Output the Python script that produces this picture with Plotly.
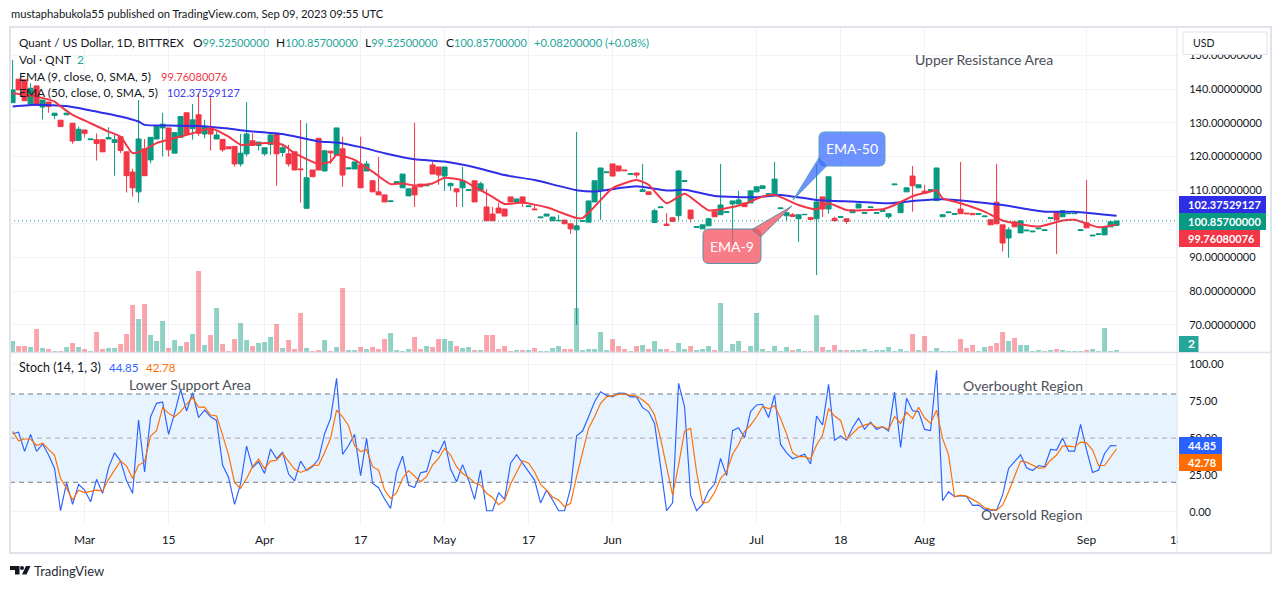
import plotly.graph_objects as go

# daily candles (oldest first)
opens = [136, 143, 142.8, 135.6, 141, 134.7, 136.2, 132.2, 130.8, 132.4,
         129.9, 124.8, 127.9, 125, 125, 125, 125.2, 124.2, 125.9, 121.4,
         115.4, 109.5, 122.3, 119, 125.2, 128.5, 128.5, 121, 125.7, 133,
         128.3, 132.4, 126.7, 128.4, 125.2, 125.1, 122.9, 123, 117.8, 120.8,
         124.7, 123.3, 120.8, 123.6, 126.9, 121.2, 120.8, 121.4, 116.3, 104.6,
         116, 125.4, 115.7, 121.6, 120.4, 122.3, 116.3, 116.3, 117.5, 115.7,
         112.8, 109.5, 108.6, 106.6, 112.2, 110.7, 108.3, 111, 111.8, 111.3,
         117.5, 116.9, 114.2, 111.3, 110.4, 110.7, 109.9, 112.8, 109.8, 105,
         102.9, 104.7, 104.4, 108, 106.5, 108, 105.1, 104.4, 101.8, 102.3,
         100.9, 100.9, 101.1, 100, 98.2, 100.7, 100.5, 106.5, 110, 115.2,
         117.8, 117.2, 116, 114.7, 115.1, 109.6, 109.5, 100.4, 104.8, 99.9,
         101.8, 102.4, 112.6, 104.1, 98.9, 98.5, 99.4, 103.6, 102.7, 103.4,
         105.9, 105.9, 106.2, 106.2, 109.5, 110.5, 108.7, 108.3, 104.5, 102.4,
         102.7, 101.5, 102.7, 101.9, 101.5, 108, 104.4, 101.6, 101.9, 101.5,
         103.3, 104.7, 103.1, 104.8, 103.1, 103.7, 102.1, 111.6, 103.3, 109.5,
         114.2, 110.7, 109.7, 109.9, 106.9, 102.1, 103.3, 102.8, 104.4, 103.2,
         103.1, 102.8, 102.1, 101.2, 106.4, 99.7, 95.8, 100.6, 97.3, 97.9,
         97.6, 98.5, 98, 101.6, 103.4, 102.1, 103, 103, 98, 100.3,
         96.4, 96.8, 96.7, 99.1, 99.525]
highs = [148.7, 143, 142.8, 141.8, 141, 136.8, 136.2, 132.9, 130.8, 132.9,
         129.9, 128.9, 127.9, 125.2, 126.9, 125, 128.7, 126.4, 125.9, 121.4,
         116.4, 136.8, 125.2, 125.7, 128.9, 133, 128.5, 127.1, 131.9, 133,
         135.6, 138.8, 130.9, 138, 127.4, 125.1, 122.9, 123, 126.7, 136.2,
         126.9, 124.3, 122.6, 127.2, 126.9, 123.8, 123.5, 121.4, 130.9, 129.9,
         116, 125.4, 122, 121.6, 128.5, 125.9, 116.6, 118.4, 125.9, 118.7,
         112.8, 119.9, 108.6, 106.8, 112.5, 114.8, 110.4, 130, 111.8, 111.6,
         118.4, 116.9, 116.9, 112.3, 110.4, 116.9, 110.1, 112.8, 112.5, 110.4,
         105, 106.2, 104.4, 108, 107.4, 108, 105.3, 105.6, 102, 102.9,
         102, 102.6, 101.1, 100, 127.3, 100.9, 106.8, 112.8, 116.6, 115.4,
         117.8, 117.2, 116, 114.9, 115.1, 117.8, 109.5, 104.5, 105, 103.2,
         101.8, 116, 112.8, 104.1, 99.1, 99.7, 101.8, 103.6, 117.8, 103.6,
         106.8, 109.8, 106.2, 109.8, 111, 111.3, 108.9, 118.4, 104.7, 103.3,
         103.2, 102.7, 102.8, 101.9, 117.8, 108, 114, 102.1, 102.1, 101.5,
         104.1, 105.9, 103.3, 105, 103.3, 103.9, 103, 111.8, 106.2, 110.7,
         117.2, 111.6, 111.6, 110.1, 116.6, 102.7, 103.5, 103, 118.4, 103.2,
         103.1, 103, 102.3, 101.2, 117.8, 99.7, 99, 100.6, 100.9, 98.1,
         97.8, 98.7, 98.2, 101.8, 103.4, 103.9, 103.1, 103.1, 98.2, 113,
         96.6, 97, 99.2, 100.6, 100.857]
lows = [136, 139.8, 136.6, 135.6, 135.2, 131, 133, 131.1, 128.9, 132.4,
        123.8, 124.8, 125.7, 125, 118.8, 121.4, 125.2, 114.3, 121, 109.3,
        108.1, 106.3, 114.3, 118, 125.2, 120, 120, 121, 125.7, 126.6,
        125, 126.1, 125.4, 121.8, 125.2, 121.4, 122.3, 117, 117, 120,
        123.3, 121.8, 120.2, 120.5, 111.3, 120, 117, 116, 106.3, 104.6,
        114, 116, 115.7, 117.8, 120.4, 111, 116.3, 116.3, 110.7, 115.7,
        109.5, 108.6, 106.5, 106.6, 112.2, 110.7, 108.3, 105, 111, 111.3,
        114.8, 111.6, 109.8, 109.8, 105, 105, 109.9, 106.5, 109.8, 100.9,
        100.9, 103.2, 102.3, 106.5, 106.5, 105, 105.1, 104.2, 101.8, 102.3,
        100.9, 100.9, 100, 97, 70, 100.7, 100.5, 106.5, 101.2, 115.2,
        114.2, 115.7, 115.8, 114.7, 113.6, 109.6, 108.7, 100.4, 104.8, 99.5,
        100.7, 101, 112.6, 100.4, 98.9, 98.5, 99.4, 102.1, 102.7, 103.4,
        93.8, 105.9, 105.1, 106.2, 109.5, 110.5, 108.7, 108.3, 104.5, 100.9,
        102.2, 94.6, 102.7, 101.3, 84.8, 102, 103, 100.9, 101.9, 100,
        103.3, 104.7, 103.1, 104.8, 103.1, 103.7, 101.5, 111.6, 103.3, 109.5,
        103.6, 110.7, 109.1, 109.9, 106.9, 102.1, 103.3, 102.8, 103, 103,
        102.7, 102.8, 102.1, 99.7, 100, 91.8, 89.9, 99.1, 97.3, 97.9,
        97.6, 98.5, 98, 101.6, 91, 102.1, 103, 103, 98, 98.8,
        96.4, 96.8, 96.7, 99.1, 99.525]
closes = [139.8, 139.8, 136.6, 140.3, 135.2, 136.8, 134.9, 132.9, 128.9, 132.9,
          124.6, 128.1, 126.9, 125.2, 123.9, 121.4, 125.6, 125, 121.8, 114.3,
          110.7, 125.2, 114.3, 125.7, 128.9, 129.6, 122, 127.1, 131.9, 126.6,
          130.9, 126.9, 128.9, 126.7, 126.4, 122, 122.3, 117.8, 121, 126.7,
          123.3, 124.3, 122.6, 126.4, 120.8, 122.6, 117.8, 116, 116.1, 113.7,
          114, 116, 121.7, 121.1, 128.5, 114.5, 116.6, 118.4, 110.7, 117.8,
          109.5, 108.6, 106.5, 106.8, 112.5, 114.8, 110.4, 108.6, 111, 111.6,
          114.8, 114.5, 116.9, 112, 109.5, 112.8, 110.1, 106.5, 111.9, 100.9,
          100.9, 103.2, 102.3, 106.5, 107.4, 106.2, 105.3, 104.2, 102, 102.9,
          102, 101, 100, 98.5, 99.4, 100.9, 106.8, 112.8, 116.6, 115.4,
          114.2, 115.7, 115.8, 114.9, 114.5, 110.1, 108.7, 103.9, 105, 99.5,
          100.7, 115.7, 112.8, 101.5, 99.1, 99.7, 101.5, 102.1, 105.6, 103.6,
          106.8, 107.1, 105.1, 109.8, 111, 111.3, 108.9, 113.3, 104.7, 103.3,
          102.2, 102.7, 102.8, 101.3, 106.5, 104.4, 114, 100.9, 102.1, 100.7,
          104.1, 105.9, 103.3, 105, 103.3, 103.9, 103, 111.8, 106.2, 110.7,
          111.3, 111.6, 109.1, 110.1, 116.6, 102.7, 103.5, 103, 103, 103,
          102.7, 103, 102.3, 99.7, 100, 94.3, 98.2, 99.1, 100.9, 98.1,
          97.8, 98.7, 98.2, 101.8, 101.2, 103.9, 103.1, 103.1, 98.2, 98.8,
          96.6, 97, 99.2, 100.6, 100.857]
volumes = [11, 6, 6, 5, 23, 4, 3, 1, 1, 5, 9, 5, 3, 1, 20, 3, 4, 4, 8, 18,
           47, 33, 48, 17, 11, 31, 4, 12, 6, 10, 18, 81, 7, 17, 44, 8, 1, 13, 29, 12,
           6, 9, 10, 15, 28, 4, 12, 3, 39, 4, 1, 2, 12, 1, 5, 64, 2, 2, 5, 3,
           5, 3, 13, 19, 2, 1, 3, 15, 3, 6, 5, 13, 13, 11, 6, 4, 5, 2, 2, 17,
           17, 3, 6, 1, 2, 2, 2, 4, 1, 1, 4, 6, 3, 3, 44, 2, 3, 3, 20, 2,
           13, 6, 3, 1, 6, 7, 3, 11, 3, 3, 1, 9, 3, 6, 2, 3, 6, 2, 49, 1,
           8, 11, 1, 6, 39, 3, 1, 6, 1, 5, 2, 3, 1, 1, 37, 5, 2, 7, 2, 2,
           2, 2, 3, 1, 2, 2, 5, 1, 3, 1, 18, 2, 16, 1, 4, 1, 1, 1, 13, 4,
           7, 1, 5, 6, 9, 20, 11, 14, 7, 7, 1, 2, 1, 2, 3, 2, 1, 1, 1, 2,
           3, 1, 24, 1, 2]

# EMA lines, sampled at the bars where they bend
ema9_bars = [0, 4, 7, 8, 10, 13, 16, 18, 20, 22, 24, 26, 30, 33, 36, 38, 42, 45, 47, 51,
             53, 54, 57, 60, 63, 65, 67, 70, 72, 75, 77, 80, 82, 85, 89, 94, 95, 97, 100,
             104, 106, 109, 112, 116, 120, 122, 125, 127, 131, 134, 136, 139, 145, 147, 150,
             153, 154, 155, 158, 162, 165, 171, 175, 177, 181, 184]
ema9_vals = [138.8, 137.8, 136.3, 134.9, 132.4, 129.9, 127.4, 125.9, 121, 122, 124, 125, 126.9, 128.4, 125.9, 123.5, 124, 123.5, 121, 117.8,
             118.5, 120.5, 119, 115.5, 111.8, 112, 111.4, 112, 113.7, 112.9, 111, 108, 105.9, 106.3, 104.9, 101.7, 101.7, 105.1, 110.6,
             113, 111.6, 106.1, 108.9, 104, 105, 105.9, 108.1, 108.6, 105.6, 104.3, 106.1, 104.1, 104.3, 105.6, 108.2,
             109.6, 110, 107.6, 106.1, 103.6, 101, 99.2, 101, 101.2, 99, 99.76]
ema50_bars = [0, 4, 9, 13, 18, 21, 22, 26, 31, 36, 39, 45, 51, 54, 58, 62, 67, 72, 77, 82, 87, 94, 97, 101,
              104, 109, 112, 117, 124, 128, 134, 140, 146, 151, 155, 159, 165, 172, 177, 184]
ema50_vals = [134.9, 135.4, 135, 133.7, 131.9, 130.4, 129.4, 129.2, 129.1, 128.3, 127.6, 126.7, 124.5, 124.2, 122.8, 121, 119.2, 118.5, 116.8, 114.5, 113, 110, 109.6, 110.6,
              111.2, 109.9, 110.1, 108.3, 107.9, 108.6, 107.1, 106.6, 106.1, 106.9, 107.3, 106.8, 105.6, 103.6, 103.6, 102.38]

# stochastic %K / %D, one value per bar
stoch_k = [53, 54, 41, 52.5, 41, 46, 38.5, 29.4, 0.7, 19.7, 5, 18.6, 14.7, 6.8, 22, 12.5, 30, 40, 34.4, 21,
           12.5, 62.3, 27, 64.5, 73.6, 74.5, 52.5, 66.8, 83, 68.4, 80.8, 64, 69, 64.5, 62, 31.7, 23.3, 5, 19, 44.6,
           30, 34, 26, 42.6, 36, 40.5, 25.6, 21, 34.4, 28, 30.6, 35.8, 53, 63.4, 90.6, 39, 45, 52.5, 24.5, 49.8,
           19.2, 16.3, 8.6, 2.3, 27, 37.8, 18, 16.5, 26.5, 27.4, 41.7, 39.9, 48.2, 29, 20.4, 32, 21.5, 8.4, 28.3, 0.7,
           0.7, 13, 8.4, 33, 38.7, 33, 27.4, 21.5, 6, 14.7, 8, 0.7, 0.7, 16, 51.6, 54.8, 64.5, 74.7, 81.5, 79,
           78, 80.6, 80.4, 78, 78, 70.7, 68, 60, 30.6, 0.7, 6, 87.2, 71.3, 11.3, 0.7, 5, 14, 18.8, 36.2, 24.5,
           55, 57, 50.3, 68, 72.5, 73, 64, 79.3, 45.7, 40, 36, 37.4, 39, 32.4, 65, 58.9, 86.5, 48.5, 51.4, 48.6,
           57.2, 63.6, 56, 60.9, 55.9, 57.7, 54.8, 81.2, 43.7, 77, 68.6, 68, 55.9, 55.2, 96, 7.5, 13.6, 10.2, 10.9, 10.4,
           4.3, 4.5, 1.6, 1.1, 1.1, 11.3, 29.4, 34, 38.7, 29.9, 28, 31.4, 30.5, 42.3, 41.9, 50, 41.2, 41.2, 59.3, 41.9,
           26.7, 28.3, 39.6, 45, 44.85]
stoch_d = [54.6, 48.2, 49.4, 49.4, 45, 46.6, 42.3, 38.3, 22.6, 15.9, 8, 14.7, 13, 13.6, 14.7, 14, 22, 28.3, 34.6, 31,
           22.6, 31.7, 34, 51.4, 55, 70.7, 66.8, 64.5, 68, 73, 77.7, 71, 71, 65.7, 65, 52, 38.5, 19.7, 15.9, 22.6,
           30.6, 35.8, 29.4, 34.4, 35, 39.6, 34.4, 29, 26.7, 28.3, 31.5, 31.7, 40.3, 49.8, 69, 64.5, 58.4, 44.8, 40.8, 42.3,
           30.6, 28.3, 14.7, 9, 13, 22.6, 27.9, 23.8, 20.4, 23.8, 31.7, 36.2, 43, 38.5, 30.6, 26, 23.3, 19.7, 18, 12.5,
           9.7, 4.8, 7.5, 18.8, 27, 34.6, 33, 27, 18.6, 14.7, 10, 8, 3.4, 5.7, 23.8, 40.8, 56.6, 64.5, 73.6, 78,
           79, 79.7, 80, 79, 78.6, 75.9, 72.5, 65.7, 49.8, 30.6, 11.3, 31.7, 54.8, 56.6, 27, 5.7, 6.8, 13, 22.6, 27,
           39, 45.7, 54.6, 58.9, 64.5, 71.3, 70, 72, 63.4, 52.8, 40, 37.4, 37.4, 35.8, 45.3, 52, 70, 65, 62, 49.3,
           53.6, 57.2, 58.8, 60, 57.2, 57.7, 55.9, 64.7, 60, 67.6, 63.3, 71, 63.8, 60, 69, 49.8, 38.5, 10.2, 11.3, 10.6,
           8.4, 6.1, 2.7, 1.6, 1.1, 4.5, 13.6, 23.8, 34.4, 33.7, 31.7, 29.6, 29.9, 35, 38.5, 44.6, 44.6, 44, 47.3, 46.8,
           41.9, 31.4, 31.4, 37.3, 42.78]

# time axis: the data has gaps, so bars are placed by number, not by date
date_tick_bars = [12, 26, 42, 58, 72, 86, 100, 124, 138, 152, 179, 194]
date_tick_labels = ['Mar', '15', 'Apr', '17', 'May', '17', 'Jun', 'Jul', '18', 'Aug', 'Sep', '18']
price_ticks = [70, 80, 90, 100, 110, 120, 130, 140, 150]
stoch_ticks = [0, 25, 50, 75, 100]

last_close = 100.857
up_color = '#089981'
down_color = '#f23645'
text_color = '#131722'
note_color = '#4a4e5a'
border_color = '#e0e3eb'
grid_color = '#f0f3fa'
font_name = 'Lato'

bars = list(range(len(closes)))
vol_colors = ['rgba(8,153,129,0.45)' if c >= o else 'rgba(242,54,69,0.45)' for o, c in zip(opens, closes)]


# pixel helpers for the page furniture (labels, badges, frame)
def px(x):
    return (x - 10) / 1167


def py(y):
    return (525 - y) / 498


def label(x, y, text, color=text_color, size=12, anchor='left', bold=False):
    if bold:
        text = '<b>' + text + '</b>'
    return dict(x=px(x), y=py(y), xref='paper', yref='paper', text=text, showarrow=False,
                xanchor=anchor, yanchor='middle', borderpad=0,
                font=dict(family=font_name, size=size, color=color))


def box(x0, y0, x1, y1, fill, line=None):
    return dict(type='rect', xref='paper', yref='paper', x0=px(x0), x1=px(x1), y0=py(y0), y1=py(y1),
                fillcolor=fill, line=dict(color=line or fill, width=1 if line else 0))


def poly_path(points):
    return 'M ' + ' L '.join('%.5f,%.5f' % (px(x), py(y)) for x, y in points) + ' Z'


def balloon(x0, y0, x1, y1, tail, fill, line):
    r = 6
    path = ('M %.5f,%.5f' % (px(x0 + r), py(y0))
            + ' L %.5f,%.5f' % (px(x1 - r), py(y0))
            + ' Q %.5f,%.5f %.5f,%.5f' % (px(x1), py(y0), px(x1), py(y0 + r))
            + ' L %.5f,%.5f' % (px(x1), py(y1 - r))
            + ' Q %.5f,%.5f %.5f,%.5f' % (px(x1), py(y1), px(x1 - r), py(y1))
            + ' L %.5f,%.5f' % (px(x0 + r), py(y1))
            + ' Q %.5f,%.5f %.5f,%.5f' % (px(x0), py(y1), px(x0), py(y1 - r))
            + ' L %.5f,%.5f' % (px(x0), py(y0 + r))
            + ' Q %.5f,%.5f %.5f,%.5f Z' % (px(x0), py(y0), px(x0 + r), py(y0)))
    return [dict(type='path', xref='paper', yref='paper', path=path, fillcolor=fill, line=dict(color=line, width=1)),
            dict(type='path', xref='paper', yref='paper', path=poly_path(tail), fillcolor=fill, line=dict(color=line, width=1))]


fig = go.Figure()

# volume sits on the base axis so the candles draw above it
fig.add_trace(go.Bar(x=bars, y=volumes, marker=dict(color=vol_colors, line=dict(width=0)), width=0.82,
                     xaxis='x', yaxis='y', showlegend=False))
fig.add_trace(go.Candlestick(x=bars, open=opens, high=highs, low=lows, close=closes, xaxis='x', yaxis='y2',
                             whiskerwidth=0, showlegend=False,
                             increasing=dict(line=dict(color=up_color, width=1), fillcolor=up_color),
                             decreasing=dict(line=dict(color=down_color, width=1), fillcolor=down_color)))
fig.add_trace(go.Scatter(x=ema50_bars, y=ema50_vals, mode='lines', line=dict(color='#2e2ee6', width=2, shape='spline', smoothing=0.5),
                         xaxis='x', yaxis='y2', showlegend=False))
fig.add_trace(go.Scatter(x=ema9_bars, y=ema9_vals, mode='lines', line=dict(color='#f23645', width=2, shape='spline', smoothing=0.5),
                         xaxis='x', yaxis='y2', showlegend=False))
fig.add_trace(go.Scatter(x=bars, y=stoch_k, mode='lines', line=dict(color='#2962ff', width=1.15),
                         xaxis='x', yaxis='y3', showlegend=False))
fig.add_trace(go.Scatter(x=bars, y=stoch_d, mode='lines', line=dict(color='#ff6d00', width=1.15),
                         xaxis='x', yaxis='y3', showlegend=False))

shapes = [
    # stochastic band and its three dashed levels
    dict(type='rect', xref='paper', yref='y3', x0=0, x1=1, y0=20, y1=80, fillcolor='rgba(33,150,243,0.11)',
         line=dict(width=0), layer='below'),
    dict(type='line', xref='paper', yref='y3', x0=0, x1=1, y0=80, y1=80, line=dict(color='#787b86', width=1, dash='5px,4px')),
    dict(type='line', xref='paper', yref='y3', x0=0, x1=1, y0=50, y1=50, line=dict(color='#a5a8b2', width=1, dash='5px,4px')),
    dict(type='line', xref='paper', yref='y3', x0=0, x1=1, y0=20, y1=20, line=dict(color='#787b86', width=1, dash='5px,4px')),
    # last price
    dict(type='line', xref='paper', yref='y2', x0=0, x1=1, y0=last_close, y1=last_close,
         line=dict(color=up_color, width=1, dash='1px,3px')),
    # frame and pane separators
    dict(type='line', xref='paper', yref='paper', x0=px(10), x1=px(1271), y0=py(352.5), y1=py(352.5), line=dict(color=border_color, width=1.5)),
    dict(type='line', xref='paper', yref='paper', x0=px(1177), x1=px(1177), y0=py(27), y1=py(553), line=dict(color=border_color, width=1)),
    dict(type='rect', xref='paper', yref='paper', x0=px(10), x1=px(1271), y0=py(27), y1=py(553), line=dict(color=border_color, width=2)),
    # cuts the last time label at the axis, as on the original
    box(1177.5, 528, 1200, 551, 'white'),
    # USD button
    dict(type='rect', xref='paper', yref='paper', x0=px(1183), x1=px(1267), y0=py(32), y1=py(54.5),
         fillcolor='white', line=dict(color=border_color, width=1)),
    # value badges
    box(1179, 196, 1266, 213, '#2e2ee6'),
    box(1179, 213, 1266, 230, up_color),
    box(1179, 230, 1260, 247, down_color),
    box(1179, 336, 1198.5, 352, '#26a69a'),
    box(1179, 437, 1222, 454, '#2962ff'),
    box(1179, 454, 1222, 471, '#ff6d00'),
    # logo
    dict(type='path', xref='paper', yref='paper', fillcolor=text_color, line=dict(width=0),
         path=poly_path([(10, 566), (19.5, 566), (19.5, 574.5), (15, 574.5), (15, 570), (10, 570)])),
    dict(type='path', xref='paper', yref='paper', fillcolor=text_color, line=dict(width=0),
         path=poly_path([(26, 566), (30.5, 566), (26.5, 574.5), (22, 574.5)])),
    dict(type='circle', xref='paper', yref='paper', x0=px(20), x1=px(24), y0=py(566), y1=py(570),
         fillcolor=text_color, line=dict(width=0)),
]
shapes += balloon(819, 132, 885, 166, [(819.5, 157), (793, 200), (827, 165.5)], 'rgba(60,110,255,0.75)', '#5aa0c8')
shapes += balloon(703, 229, 761, 263.5, [(752, 229.5), (792, 206), (760.5, 237)], 'rgba(245,80,95,0.75)', '#5b93a6')

teal = '#26a69a'
num = 'color:%s;font-size:11px' % teal
annotations = [
    label(10, 14, 'mustaphabukola55 published on TradingView.com, Sep 09, 2023 09:55 UTC', size=11.2),
    label(18, 42, 'Quant / US Dollar, 1D, BITTREX', size=11.7),
    label(192, 42, 'O<span style="%s">99.52500000</span>' % num, size=12),
    label(275, 42, 'H<span style="%s">100.85700000</span>' % num, size=12),
    label(364, 42, 'L<span style="%s">99.52500000</span>' % num, size=12),
    label(445, 42, 'C<span style="%s">100.85700000</span>' % num, size=12),
    label(533, 42, '+0.08200000 (+0.08%)', color=teal, size=11.3),
    label(18, 59, 'Vol · QNT', size=12),
    label(76, 59, '2', color=teal, size=12),
    label(18, 76, 'EMA (9, close, 0, SMA, 5)', size=12),
    label(160, 76, '99.76080076', color=down_color, size=11),
    label(18, 93, 'EMA (50, close, 0, SMA, 5)', size=12),
    label(166, 93, '102.37529127', color='#4040ee', size=11),
    label(18, 367, 'Stoch (14, 1, 3)', size=12.5),
    label(108, 367, '44.85', color='#2962ff', size=11.5),
    label(145, 367, '42.78', color='#ff6d00', size=11.5),
    label(914, 59, 'Upper Resistance Area', color=note_color, size=14),
    label(128, 384, 'Lower Support Area', color=note_color, size=14),
    label(962, 385, 'Overbought Region', color=note_color, size=14),
    label(980, 514, 'Oversold Region', color=note_color, size=14),
    label(852, 148, 'EMA-50', color='white', size=14, anchor='center'),
    label(732, 246, 'EMA-9', color='white', size=14, anchor='center'),
    label(1192, 43, 'USD', size=10.5),
    label(1187, 204.5, '102.37529127', color='white', size=11, bold=True),
    label(1187, 221.5, '100.85700000', color='white', size=11, bold=True),
    label(1187, 238.5, '99.76080076', color='white', size=11, bold=True),
    label(1187, 344, '2', color='white', size=12, bold=True),
    label(1187, 445.5, '44.85', color='white', size=11, bold=True),
    label(1187, 462.5, '42.78', color='white', size=11, bold=True),
    label(33, 571, 'TradingView', color='#2a2e39', size=13),
]

tick_font = dict(family=font_name, size=11, color=text_color)

# the browser leaves an 8px page margin, so the figure is that much smaller and its margins account for it
fig.update_layout(
    width=1273, height=581, autosize=False,
    margin=dict(l=2, r=104, t=19, b=64, pad=0),
    paper_bgcolor='white', plot_bgcolor='white',
    font=dict(family=font_name, color=text_color),
    boxgap=0.17, boxgroupgap=0, bargap=0.17,
    hovermode=False,
    shapes=shapes, annotations=annotations,
    xaxis=dict(anchor='y3', range=[-0.43, 194.07], tickmode='array', tickvals=date_tick_bars, ticktext=date_tick_labels,
               showgrid=True, gridcolor=grid_color, gridwidth=1, zeroline=False, showline=False,
               ticks='outside', ticklen=4, tickcolor='rgba(0,0,0,0)', tickfont=dict(family=font_name, size=12, color=text_color), tickangle=0,
               rangeslider=dict(visible=False)),
    yaxis=dict(domain=[(525 - 352) / 498, 1], range=[0, 325], visible=False, fixedrange=True),
    yaxis2=dict(domain=[(525 - 352) / 498, 1], overlaying='y', side='right', anchor='x', range=[61.9, 158.5],
                tickmode='array', tickvals=price_ticks, tickformat='.8f', showgrid=True, gridcolor=grid_color,
                zeroline=False, showline=False, ticks='outside', ticklen=9, tickcolor='rgba(0,0,0,0)', tickfont=tick_font),
    yaxis3=dict(domain=[0, (525 - 353) / 498], side='right', anchor='x', range=[-9, 107.8],
                tickmode='array', tickvals=stoch_ticks, tickformat='.2f', showgrid=True, gridcolor=grid_color,
                zeroline=False, showline=False, ticks='outside', ticklen=9, tickcolor='rgba(0,0,0,0)', tickfont=tick_font),
)

fig.write_html("out.html")
